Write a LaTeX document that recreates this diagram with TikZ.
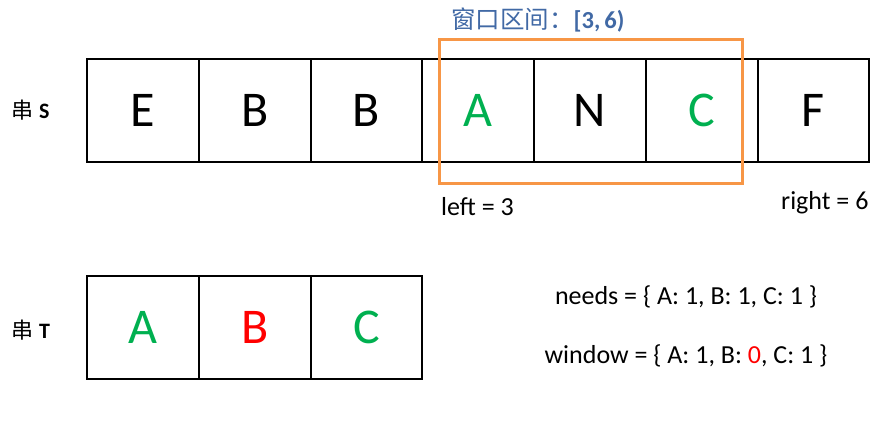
\documentclass[tikz,border=0pt]{standalone}
\usepackage{fontspec}
\setmainfont{Carlito}
\newfontfamily\cjk{Noto Sans CJK SC}
\definecolor{okgreen}{RGB}{0,176,80}
\definecolor{okred}{RGB}{255,0,0}
\definecolor{winorange}{RGB}{247,150,70}
\definecolor{titleblue}{RGB}{65,105,165}
\tikzset{
  cell/.style={minimum width=111.7pt, minimum height=102.7pt, inner sep=0pt, outer sep=0pt, font=\fontsize{50}{50}\selectfont},
  tcell/.style={cell, minimum height=103pt},
  grid/.style={draw=black, line width=2pt},
  lbl/.style={inner sep=0pt, font=\fontsize{26}{28}\selectfont},
  rowlbl/.style={inner sep=0pt, font=\fontsize{22}{24}\selectfont}
}
\begin{document}
\begin{tikzpicture}[x=1pt,y=-1pt]
\useasboundingbox (0,0) rectangle (889,421);
% string S
\node[cell] (s0) at (143.15,110.65) {E};
\node[cell] (s1) at (254.85,110.65) {B};
\node[cell] (s2) at (366.55,110.65) {B};
\node[cell, text=okgreen] (s3) at (478.25,110.65) {A};
\node[cell] (s4) at (589.95,110.65) {N};
\node[cell, text=okgreen] (s5) at (701.65,110.65) {C};
\node[cell] (s6) at (813.35,110.65) {F};
\draw[grid] (s0.north west) rectangle (s6.south east);
\foreach \c in {s0,s1,s2,s3,s4,s5} \draw[grid] (\c.north east) -- (\c.south east);
% window
\node[draw=winorange, line width=3pt, minimum width=302.5pt, minimum height=144pt, inner sep=0pt] (win) at (591.2,111) {};
\node[inner sep=0pt, text=titleblue, font=\fontsize{24.5}{26}\selectfont, anchor=west] (title) at (451,20) {{\cjk 窗口区间：}\textbf{[3,\,6)}};
\node[lbl, anchor=west] (left) at (441,207) {left = 3};
\node[lbl, anchor=west] (right) at (781,203) {right = 6};
% string T
\node[tcell, text=okgreen] (t0) at (143.15,327.5) {A};
\node[tcell, text=okred] (t1) at (254.85,327.5) {B};
\node[tcell, text=okgreen] (t2) at (366.55,327.5) {C};
\draw[grid] (t0.north west) rectangle (t2.south east);
\foreach \c in {t0,t1} \draw[grid] (\c.north east) -- (\c.south east);
% labels
\node[rowlbl, anchor=west] (ls) at (11,110) {{\cjk 串}\hspace{6pt}\textbf{S}};
\node[rowlbl, anchor=west] (lt) at (11,330) {{\cjk 串}\hspace{6pt}\textbf{T}};
\node[lbl] (needs) at (686,297) {needs = \{ A: 1, B: 1, C: 1 \}};
\node[lbl] (window) at (686,356) {window = \{ A: 1, B: \textcolor{okred}{0}, C: 1 \}};
\end{tikzpicture}
\end{document}
